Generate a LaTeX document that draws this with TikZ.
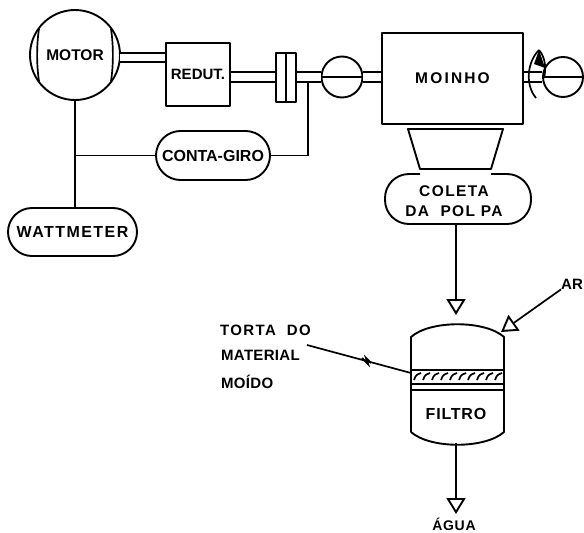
\documentclass[tikz,border=0pt]{standalone}
\usepackage{fontspec}
\setmainfont{Liberation Sans}
\usetikzlibrary{arrows.meta,shapes.misc}
\tikzset{
  ink/.style={line width=1.9pt,black,line join=round},
  thinink/.style={line width=1.7pt,black},
  shaft/.style={line width=1.9pt,double=white,double distance=7.5pt,black},
  lab/.style={font=\bfseries\fontsize{#1}{#1}\selectfont,inner sep=0pt},
  lab/.default=14,
  pill/.style={rounded rectangle,draw,ink,inner sep=0pt},
  openarrow/.style={thinink,-{Triangle[open,length=16pt,width=19pt,line width=1.9pt]}},
  boxnode/.style={draw,ink,rectangle,inner sep=0pt}
}
\begin{document}
\begin{tikzpicture}[x=1pt,y=-1pt]
\useasboundingbox (0,0) rectangle (584,533);
% machines
\node[circle,draw,ink,minimum size=90pt,inner sep=0pt,lab=15.5] (motor) at (75,55) {MOTOR};
\node[boxnode,minimum width=64pt,minimum height=63pt,lab=15] (redut) at (198,74.5) {REDUT.};
\node[boxnode,minimum width=20pt,minimum height=49pt] (coupling) at (286,77.5) {};
\node[circle,draw,ink,minimum size=41pt,inner sep=0pt] (wheelA) at (342,77) {};
\node[boxnode,minimum width=141pt,minimum height=91pt,font=\bfseries\fontsize{15.5}{15.5}\selectfont\addfontfeature{LetterSpace=14},inner sep=0pt] (moinho) at (452.5,78.5) {MOINHO};
\node[circle,draw,ink,minimum size=40pt,inner sep=0pt] (wheelB) at (563,77) {};
\node[pill,minimum width=114pt,minimum height=49pt,font=\bfseries\fontsize{16}{16}\selectfont] (conta) at (213,155.5) {CONTA-GIRO};
\node[pill,minimum width=129pt,minimum height=48pt,font=\bfseries\fontsize{16}{16}\selectfont\addfontfeature{LetterSpace=9}] (watt) at (72.5,232) {WATTMETER};
\node[minimum width=146pt,minimum height=50pt,inner sep=0pt,align=center,font=\bfseries\fontsize{15.5}{20}\selectfont\addfontfeature{LetterSpace=9}] (coleta) at (454,201) {COLETA\\DA\ \ POL PA};
\node[lab=16] (filtrotxt) at (456,414) {\addfontfeature{LetterSpace=5}FILTRO};
% coleta outline, open where the hopper stands on it
\draw[ink,rounded corners=24pt] (420,174) -- (385,174) -- (385,224) -- (531,224) -- (531,174) -- (491,174);
% motor side chords
\draw[thinink] (39,29) .. controls (36.5,45) and (36.5,65) .. (39,81);
\draw[thinink] (111,29) .. controls (113.5,45) and (113.5,65) .. (111,81);
% shafts
\coordinate (s1) at (120,57.5);
\coordinate (s2) at (0,77);
\draw[shaft] (s1) -- (redut.west |- s1);
\draw[shaft] (redut.east |- s2) -- (coupling.west |- s2);
\draw[shaft] (coupling.east |- s2) -- (wheelA.west);
\draw[shaft] (wheelA.east) -- (moinho.west |- wheelA);
\draw[shaft] (moinho.east |- wheelB) -- (wheelB.west);
\draw[thinink] (coupling.north) -- (coupling.south);
\draw[thinink] (wheelA.west) -- (wheelA.east);
\draw[thinink] (wheelB.west) -- (wheelB.east);
% hopper
\coordinate (h1) at (408,129); \coordinate (h2) at (503,129);
\coordinate (h3) at (491,169); \coordinate (h4) at (420,169);
\draw[ink] (h1) -- (h2) -- (h3) -- (h4) -- cycle;
% rotation mark
\coordinate (r1) at (536,98); \coordinate (r2) at (539,50);
\draw[thinink] (r1) .. controls (525,85) and (527,62) .. (r2);
\draw[thinink] (r2) .. controls (546,58) and (546,70) .. (544,78);
\fill (r2) -- (545,68) -- (534,64) -- cycle;
% signal lines
\coordinate (j1) at (motor.south |- conta.west);
\coordinate (tap) at (308,82);
\draw[thinink] (motor.south) -- (watt.north -| motor.south);
\draw[thinink] (j1) -- (conta.west);
\draw[thinink] (conta.east) -| (tap);
% filter body
\coordinate (ftl) at (411,337); \coordinate (ftr) at (504,337);
\coordinate (fbl) at (411,432); \coordinate (fbr) at (504,432);
\draw[ink] (fbl) -- (ftl) .. controls (430,320) and (485,320) .. (ftr) -- (fbr) .. controls (485,449) and (430,449) .. (fbl);
\draw[line width=2.4pt] (411,370) -- (504,370);
\draw[line width=2.4pt] (411,384) -- (504,384);
\draw[thinink] (411,390) -- (504,390);
\foreach \x in {414,423,...,495}{\draw[line width=1.7pt] (\x,380) .. controls (\x+2,374) and (\x+4,374) .. (\x+7,373);}
% flows
\coordinate (cout) at (456,224);
\coordinate (fin) at (456,315);
\draw[openarrow] (cout) -- (fin);
\node[lab=15,anchor=west] (ar) at (561,284) {AR};
\coordinate (airtip) at (501,332);
\draw[openarrow] (ar.south west) -- (airtip);
\coordinate (fout) at (456,443);
\coordinate (wtip) at (456,514);
\draw[openarrow] (fout) -- (wtip);
\node[lab=14] (agua) at (454,524) {\addfontfeature{LetterSpace=5}ÁGUA};
% torta labels
\node[lab=15,anchor=west] (t1) at (220,330) {\addfontfeature{LetterSpace=9}TORTA\ \ DO};
\node[lab=15,anchor=west] (t2) at (221,355) {\addfontfeature{LetterSpace=2}MATERIAL};
\node[lab=15,anchor=west] (t3) at (221,382) {\addfontfeature{LetterSpace=2}MOÍDO};
\coordinate (tstart) at (307,345); \coordinate (tend) at (411,373);
\draw[thinink] (tstart) -- (tend);
\draw[line width=1.8pt] (362,358) -- (368,364) -- (366,358) -- (371,363);
\end{tikzpicture}
\end{document}
